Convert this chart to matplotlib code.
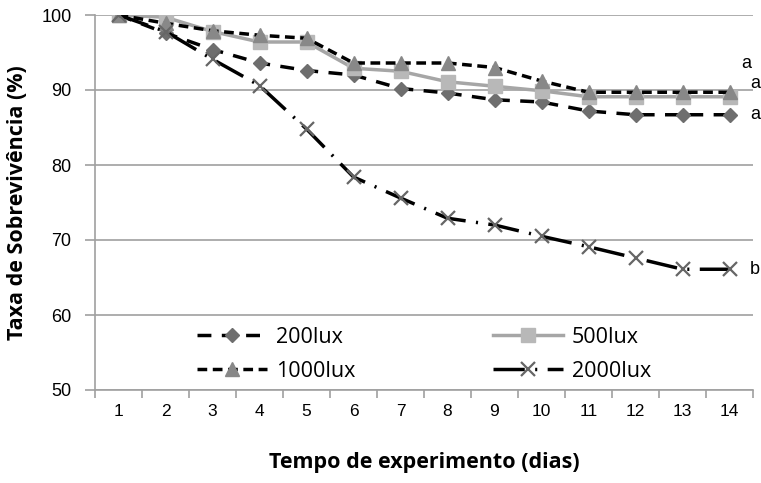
import matplotlib.pyplot as plt
from matplotlib.ticker import FixedLocator

dias = list(range(1, 15))
lux200 = [100, 97.6, 95.4, 93.6, 92.6, 92.0, 90.2, 89.6, 88.7, 88.4, 87.2, 86.7, 86.7, 86.7]
lux500 = [100, 99.7, 97.8, 96.4, 96.4, 92.9, 92.5, 91.1, 90.5, 89.9, 89.1, 89.1, 89.1, 89.1]
lux1000 = [100, 98.9, 97.9, 97.3, 96.9, 93.6, 93.6, 93.6, 93.0, 91.2, 89.7, 89.7, 89.7, 89.7]
lux2000 = [100, 97.8, 94.1, 90.6, 84.8, 78.4, 75.6, 72.9, 72.0, 70.5, 69.1, 67.6, 66.1, 66.1]
letras = ["a", "a", "a", "b"]
letras_x = [14.25, 14.44, 14.44, 14.44]
letras_y = [93.6, 90.9, 86.7, 66.1]

plt.rcParams['font.family'] = ['Liberation Sans', 'DejaVu Sans']
calibri_like = ['Open Sans', 'DejaVu Sans']

fig = plt.figure(figsize=(7.61, 4.83), dpi=100)
ax = fig.add_axes([95 / 761, 93 / 483, 658 / 761, 375 / 483])

l200, = ax.plot(dias, lux200, color='black', lw=2.5, dashes=(4, 3), marker='D',
                ms=7.5, mfc='#6e6e6e', mec='#6e6e6e', label='200lux', zorder=3)
l500, = ax.plot(dias, lux500, color='#a6a6a6', lw=2.5, ls='-', marker='s',
                ms=10, mfc='#b8b8b8', mec='#b8b8b8', label='500lux', zorder=3)
l1000, = ax.plot(dias, lux1000, color='black', lw=2.5, dashes=(2.8, 1.6), marker='^',
                 ms=10, mfc='#888888', mec='#888888', label='1000lux', zorder=3)
l2000, = ax.plot(dias, lux2000, color='black', lw=2.5, dashes=(9, 3, 0.6, 3), marker='x',
                 ms=9.5, mew=1.6, mec='#666666', label='2000lux', zorder=3)

for t, xv, yv in zip(letras, letras_x, letras_y):
    ax.text(xv, yv, t, fontsize=13, va='center', ha='left', clip_on=False)

ax.set_xlim(0.5, 14.5)
ax.set_ylim(50, 100)
ax.set_yticks([50, 60, 70, 80, 90, 100])
ax.yaxis.grid(True, color='#a0a0a0', lw=1.2)
ax.set_axisbelow(True)

ax.xaxis.set_major_locator(FixedLocator([i + 0.5 for i in range(0, 15)]))
ax.xaxis.set_minor_locator(FixedLocator(dias))
ax.set_xticklabels([])
ax.set_xticklabels([str(d) for d in dias], minor=True)
ax.tick_params(axis='x', which='major', length=6, color='#a0a0a0', width=1.2)
ax.tick_params(axis='x', which='minor', length=0, labelsize=12.5, pad=10)
ax.tick_params(axis='y', length=7, color='#a0a0a0', width=1.2, labelsize=13, pad=10)

for s in ['top', 'right']:
    ax.spines[s].set_visible(False)
for s in ['left', 'bottom']:
    ax.spines[s].set_color('#a0a0a0')
    ax.spines[s].set_linewidth(1.2)

ax.set_ylabel('Taxa de Sobrevivência (%)', fontsize=15.5, fontweight='bold',
              family=calibri_like)
ax.yaxis.set_label_coords(-0.102, 0.5)
ax.set_xlabel('Tempo de experimento (dias)', fontsize=15.5, fontweight='bold',
              family=calibri_like)
ax.xaxis.set_label_coords(0.5, -0.165)

ax.legend([l200, l1000, l500, l2000], ['200lux', '1000lux', '500lux', '2000lux'],
          loc='center', bbox_to_anchor=(0.5, 0.095), ncol=2, frameon=False,
          prop={'family': calibri_like, 'size': 15.5}, handlelength=3.25,
          columnspacing=6.4, labelspacing=0.6, handletextpad=0.4)

fig.savefig('out.png', dpi=100)
